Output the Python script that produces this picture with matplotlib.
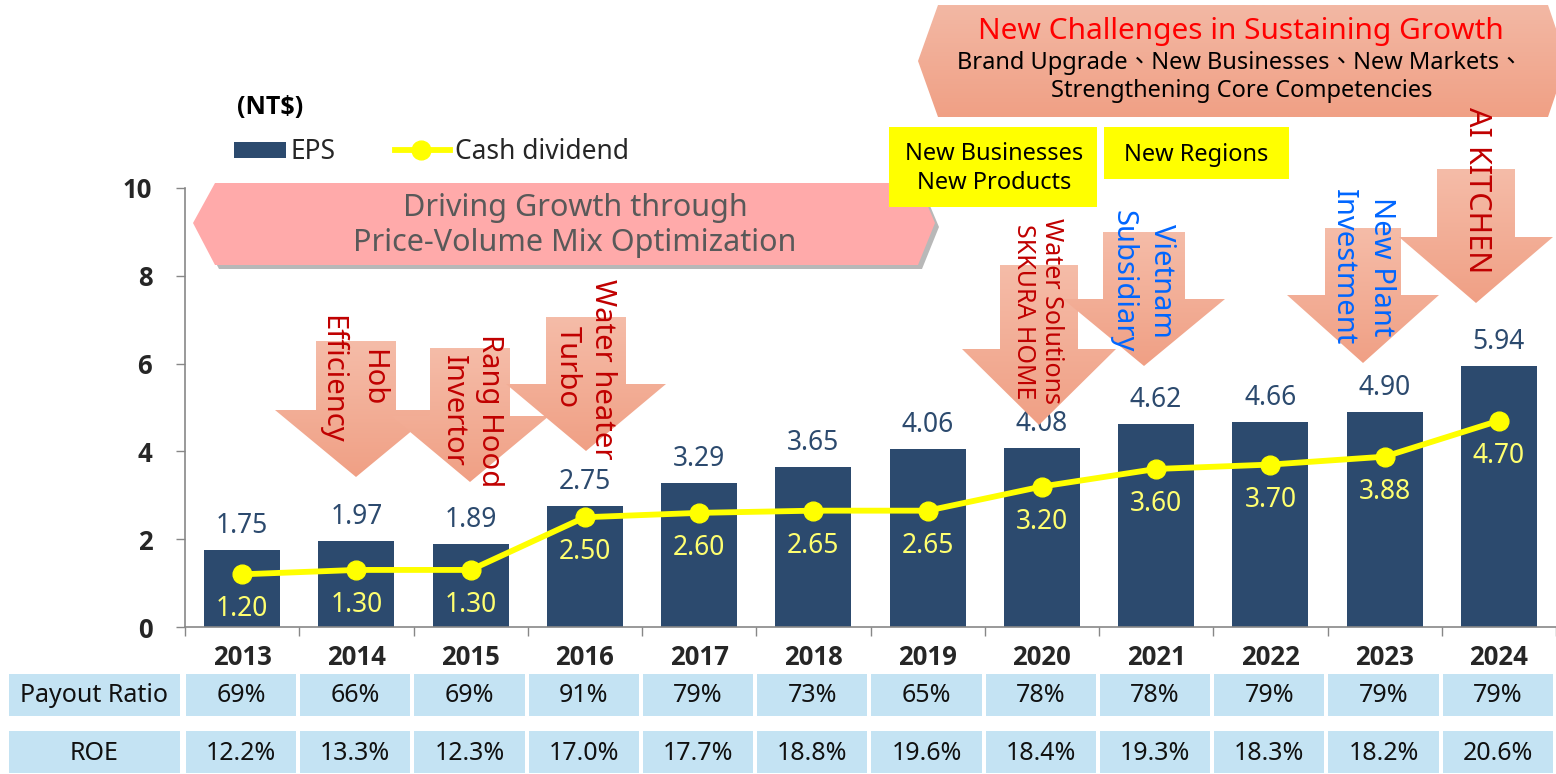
import matplotlib.pyplot as plt
import matplotlib.patches as mpatches
import matplotlib.colors as mcolors
from matplotlib import font_manager
import numpy as np

years = ['2013', '2014', '2015', '2016', '2017', '2018',
         '2019', '2020', '2021', '2022', '2023', '2024']
eps = [1.75, 1.97, 1.89, 2.75, 3.29, 3.65, 4.06, 4.08, 4.62, 4.66, 4.90, 5.94]
dividend = [1.20, 1.30, 1.30, 2.50, 2.60, 2.65, 2.65, 3.20, 3.60, 3.70, 3.88, 4.70]
payout = ['69%', '66%', '69%', '91%', '79%', '73%', '65%', '78%', '78%', '79%', '79%', '79%']
roe = ['12.2%', '13.3%', '12.3%', '17.0%', '17.7%', '18.8%',
       '19.6%', '18.4%', '19.3%', '18.3%', '18.2%', '20.6%']

# annotation arrows: (lines, colour, font size, cx, shaft top, head start, tip, shaft half w, head half w)
arrows = [
    (['Hob', 'Efficiency'], '#C00000', 21, 356, 341, 410, 477, 40, 81),
    (['Rang Hood', 'Invertor'], '#C00000', 21, 470, 348, 416, 482, 40, 79),
    (['Water heater', 'Turbo'], '#C00000', 21, 586, 317, 384, 451, 40, 80),
    (['Water Solutions', 'SKKURA HOME'], '#C00000', 18, 1039, 265, 349, 425, 39, 77),
    (['Vietnam', 'Subsidiary'], '#0066FF', 21, 1144, 232, 299, 366, 41, 81),
    (['New Plant', 'Investment'], '#0066FF', 21, 1363, 228, 295, 363, 38, 76),
    (['AI KITCHEN'], '#C00000', 22, 1476, 169, 237, 303, 39, 77),
]
# text line centres for each arrow (pixels)
arrow_text_pos = [
    [(373, 378), (332, 379)],
    [(490, 411), (453, 411)],
    [(603, 369), (567, 367)],
    [(1052, 311), (1024, 312)],
    [(1162, 281), (1123, 281)],
    [(1382, 267), (1343, 267)],
    [(1477, 190)],
]

W, H = 1556, 774
NAVY = '#2C4A6E'
GRAY = '#878787'
DARK = '#262626'
CELL = '#C4E3F3'

plt.rcParams['font.family'] = ['Noto Sans', 'Noto Sans CJK TC', 'DejaVu Sans']
ttf = font_manager.fontManager.ttflist


def has_bold(name):
    for f in ttf:
        if f.name != name:
            continue
        w = f.weight if isinstance(f.weight, int) else font_manager.weight_dict.get(f.weight, 400)
        if w >= 600:
            return True
    return False


BOLD = next((n for n in ['Noto Sans', 'Open Sans', 'Lato', 'Roboto', 'DejaVu Sans'] if has_bold(n)),
            'DejaVu Sans')

fig = plt.figure(figsize=(W / 100, H / 100), dpi=100)

# main chart
AX_L, AX_B = 185, 627
PX_PER_UNIT = 43.9
ax = fig.add_axes([AX_L / W, (H - AX_B) / H, (W - AX_L) / W, AX_B / H])
x = np.arange(len(years))
ax.bar(x, eps, width=0.665, color=NAVY, zorder=2)
ax.plot(x, dividend, color='#FFFF00', lw=4.2, marker='o', ms=13.5, zorder=3)
for xi, v in zip(x, eps):
    ax.annotate(f'{v:.2f}', (xi, v), xytext=(0, 17), textcoords='offset pixels',
                ha='center', va='baseline', fontsize=19, color=NAVY)
for xi, v in zip(x, dividend):
    ax.annotate(f'{v:.2f}', (xi, v), xytext=(0, -42), textcoords='offset pixels',
                ha='center', va='baseline', fontsize=19, color='#FFFF70', zorder=4)

ax.set_xlim(-0.5, len(years) - 0.5)
ax.set_ylim(0, AX_B / PX_PER_UNIT)
ax.set_yticks(range(0, 11, 2))
ax.set_yticklabels([str(v) for v in range(0, 11, 2)], family=BOLD, fontweight='bold')
ax.set_xticks(x, years, family=BOLD, fontweight='bold')
ax.set_xticks(np.arange(-0.5, len(years)), minor=True)
ax.tick_params(axis='x', which='major', length=0, pad=12.5, labelsize=18.5, labelcolor=DARK)
ax.tick_params(axis='x', which='minor', length=6.5, color=GRAY, width=1)
ax.tick_params(axis='y', length=6.5, color=GRAY, width=1, pad=17, labelsize=18.5, labelcolor=DARK)
ax.spines['left'].set_bounds(0, 10)
for s in ['left', 'bottom']:
    ax.spines[s].set_color(GRAY)
    ax.spines[s].set_linewidth(1.2)
ax.spines['top'].set_visible(False)
ax.spines['right'].set_visible(False)
ax.patch.set_visible(False)

# overlay in pixel coordinates for the decorations
ov = fig.add_axes([0, 0, 1, 1])
ov.axis('off')
ov.patch.set_visible(False)


def grad_poly(pts, top_c, bot_c, z):
    poly = mpatches.Polygon(pts, closed=True, facecolor='none', edgecolor='none')
    ov.add_patch(poly)
    xs = [p[0] for p in pts]
    ys = [p[1] for p in pts]
    c0 = np.array(mcolors.to_rgb(top_c))
    c1 = np.array(mcolors.to_rgb(bot_c))
    t = np.linspace(0, 1, 64)[:, None]
    img = (c0 * (1 - t) + c1 * t)[:, None, :]
    im = ov.imshow(img, extent=(min(xs), max(xs), max(ys), min(ys)),
                   aspect='auto', zorder=z, interpolation='bilinear')
    im.set_clip_path(poly)


# top right banner
top_pts = [(918, 61), (938, 5), (1548, 5), (1567, 61), (1548, 117), (938, 117)]
grad_poly(top_pts, '#F3B8A4', '#F0A085', 1)
ov.text(1241, 31, 'New Challenges in Sustaining Growth', color='#FF0000',
        fontsize=21.5, ha='center', va='center', zorder=5)
ov.text(1240, 63, 'Brand Upgrade、New Businesses、New Markets、', color='black',
        fontsize=17, ha='center', va='center', zorder=5)
ov.text(1242, 91, 'Strengthening Core Competencies', color='black',
        fontsize=17, ha='center', va='center', zorder=5)

# pink banner with shadow
pink_pts = [(193, 223), (215, 183), (918, 183), (935, 223), (918, 265), (215, 265)]
ov.add_patch(mpatches.Polygon([(px + 4, py + 4) for px, py in pink_pts], closed=True,
                              facecolor='black', alpha=0.28, edgecolor='none', zorder=1))
ov.add_patch(mpatches.Polygon(pink_pts, closed=True, facecolor='#FFAAAA',
                              edgecolor='none', zorder=2))
ov.text(575, 208, 'Driving Growth through', color='#595959', fontsize=22,
        ha='center', va='center', zorder=5)
ov.text(575, 243, 'Price-Volume Mix Optimization', color='#595959', fontsize=22,
        ha='center', va='center', zorder=5)

# yellow boxes
ov.add_patch(mpatches.Rectangle((889, 127), 208, 80, facecolor='#FFFF00', edgecolor='none', zorder=2))
ov.add_patch(mpatches.Rectangle((1104, 127), 185, 52, facecolor='#FFFF00', edgecolor='none', zorder=2))
ov.text(994, 154, 'New Businesses', fontsize=17, ha='center', va='center', zorder=5)
ov.text(994, 183, 'New Products', fontsize=17, ha='center', va='center', zorder=5)
ov.text(1196, 155, 'New Regions', fontsize=17, ha='center', va='center', zorder=5)

# down arrows
for (lines, col, fs, cx, top, hy, tip, sw, hw), pos in zip(arrows, arrow_text_pos):
    pts = [(cx - sw, top), (cx + sw, top), (cx + sw, hy), (cx + hw, hy), (cx, tip),
           (cx - hw, hy), (cx - sw, hy)]
    grad_poly(pts, '#F5BCA8', '#F0A085', 3)
    for s, (tx, ty) in zip(lines, pos):
        ov.text(tx, ty, s, rotation=-90, ha='center', va='center', fontsize=fs,
                color=col, zorder=6)

# legend
ov.text(237, 107, '(NT$)', fontsize=18, family=BOLD, fontweight='bold', color='black', va='center')
ov.add_patch(mpatches.Rectangle((234, 142), 52, 16, facecolor=NAVY, edgecolor='none'))
ov.text(291, 152, 'EPS', fontsize=19, color=DARK, va='center')
ov.plot([395, 450], [150, 150], color='#FFFF00', lw=4.2)
ov.plot([421], [150], 'o', color='#FFFF00', ms=13.5)
ov.text(455, 152, 'Cash dividend', fontsize=19, color=DARK, va='center')

# table rows under the axis
band = (W - AX_L) / len(years)
for row_label, vals, y0 in [('Payout Ratio', payout, 674), ('ROE', roe, 731)]:
    ov.add_patch(mpatches.Rectangle((9, y0), 171, 42, facecolor=CELL, edgecolor='none'))
    ov.text(94, y0 + 22, row_label, fontsize=18, color='#111111',
            ha='center', va='center')
    for i, v in enumerate(vals):
        x0 = AX_L + i * band + 1
        ov.add_patch(mpatches.Rectangle((x0, y0), band - 4, 42, facecolor=CELL, edgecolor='none'))
        ov.text(x0 + (band - 4) / 2, y0 + 22, v, fontsize=18,
                color='#111111', ha='center', va='center')

ov.set_xlim(0, W)
ov.set_ylim(H, 0)

fig.savefig('out.png', dpi=100)
